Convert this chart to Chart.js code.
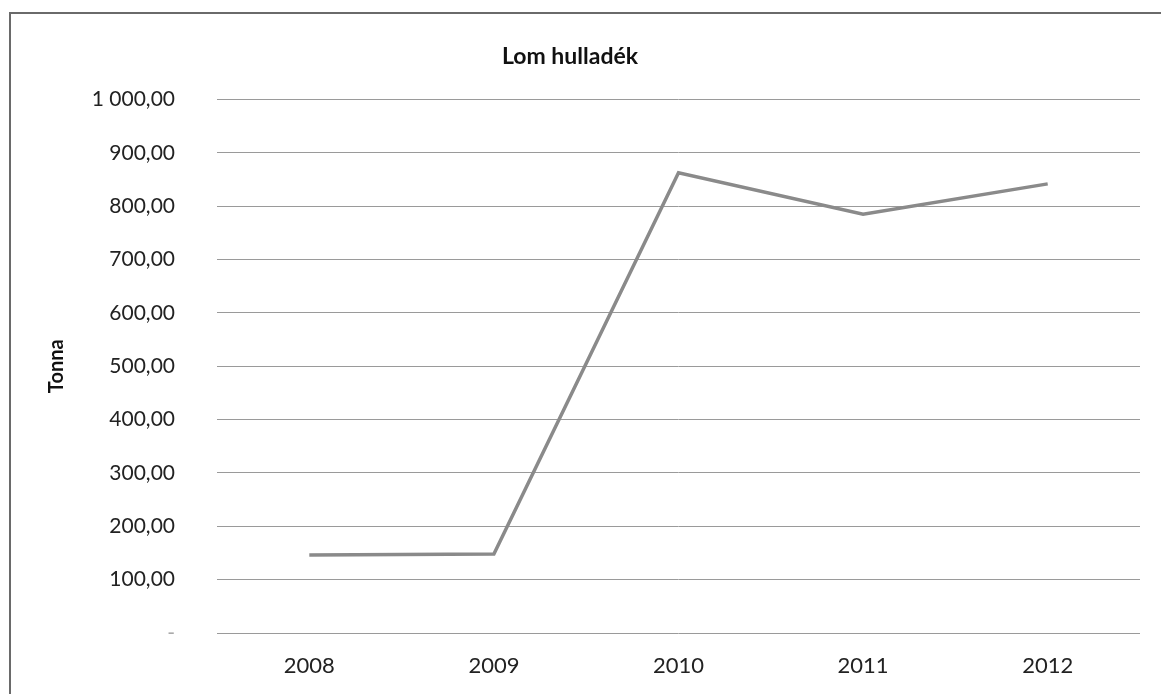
<!DOCTYPE html>
<html lang="hu">
<head>
<meta charset="utf-8">
<title>Lom hulladék</title>
<script src="https://cdn.jsdelivr.net/npm/chart.js@4.4.1/dist/chart.umd.min.js"></script>
<style>
    html, body { margin: 0; padding: 0; background: #fff; }
    #keret {
        position: absolute; left: 9px; top: 12px; width: 1152px; height: 682px;
        border-left: 2px solid #6a6a6a; border-top: 2px solid #6a6a6a;
    }
    #lomChart { position: absolute; left: 0; top: 0; }
</style>
</head>
<body>
<div id="keret"></div>
<canvas id="lomChart" width="1161" height="694"></canvas>
<script>
const evek = ['2008', '2009', '2010', '2011', '2012'];
const tonna = [146, 148, 863, 785, 842];
const yMin = 0;
const yMax = 1000;
const yLepes = 100;

(() => {

    function formazas(ertek) {
        if (ertek === 0) return '-';
        const [egesz, tized] = ertek.toFixed(2).split('.');
        return egesz.replace(/\B(?=(\d{3})+(?!\d))/g, ' ') + ',' + tized;
    }

    const ctx = document.getElementById('lomChart');

    new Chart(ctx, {
        type: 'line',
        data: {
            labels: evek,
            datasets: [{
                label: 'Lom hulladék',
                data: tonna,
                borderColor: '#8a8a8a',
                borderWidth: 3.5,
                pointRadius: 0,
                tension: 0,
                fill: false
            }]
        },
        options: {
            responsive: false,
            animation: false,
            layout: { padding: { left: 0, right: 21, top: 0, bottom: 0 } },
            plugins: {
                legend: { display: false },
                tooltip: { enabled: false },
                title: {
                    display: true,
                    text: 'Lom hulladék',
                    color: '#111',
                    font: { family: 'Lato', size: 23, weight: 'bold' },
                    padding: { top: 43, bottom: 29 }
                }
            },
            scales: {
                x: {
                    offset: true,
                    grid: { display: false, drawTicks: false },
                    border: { display: false },
                    ticks: {
                        color: '#222',
                        font: { family: 'Lato', size: 22 },
                        padding: 20,
                        maxRotation: 0
                    },
                    afterFit: (scale) => { scale.height = 61; }
                },
                y: {
                    min: yMin,
                    max: yMax,
                    grid: { color: '#9a9a9a', lineWidth: 1, drawTicks: false },
                    border: { display: false },
                    ticks: {
                        stepSize: yLepes,
                        color: (c) => c.tick && c.tick.value === 0 ? '#aaaaaa' : '#222',
                        font: { family: 'Lato', size: 21 },
                        padding: 42,
                        callback: (v) => formazas(v)
                    },
                    title: {
                        display: true,
                        text: 'Tonna',
                        color: '#111',
                        font: { family: 'Lato', size: 20, weight: 'bold' },
                        padding: { top: 45, bottom: 0 }
                    },
                    afterFit: (scale) => { scale.width = 217; }
                }
            }
        }
    });

})();
</script>
</body>
</html>
